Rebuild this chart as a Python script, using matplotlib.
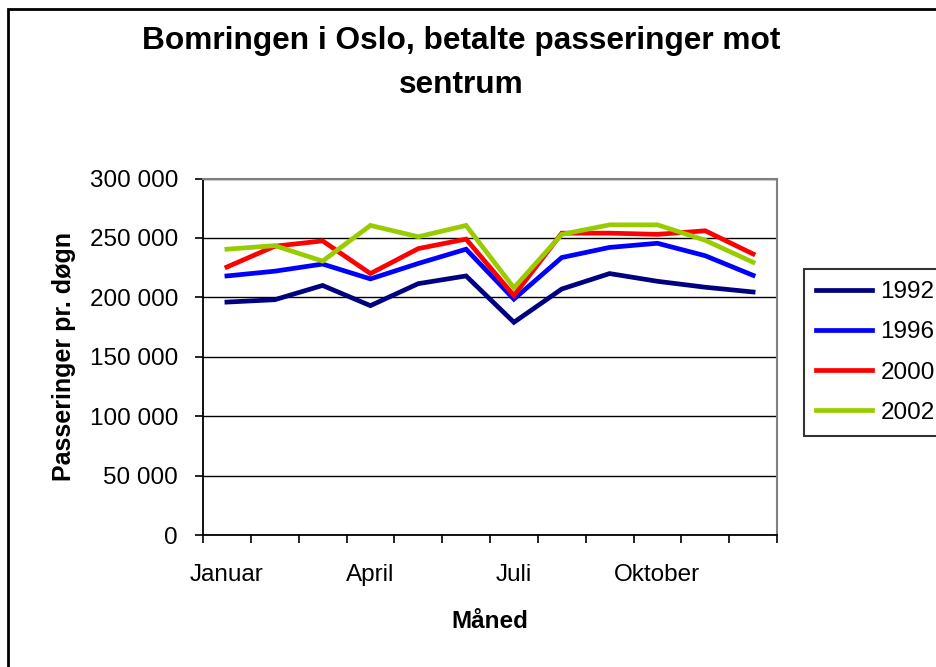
import matplotlib
matplotlib.use("Agg")
import matplotlib.pyplot as plt
from matplotlib.patches import Rectangle

plt.rcParams["font.family"] = ["Liberation Sans", "DejaVu Sans"]

months = ["Januar", "Februar", "Mars", "April", "Mai", "Juni", "Juli",
          "August", "September", "Oktober", "November", "Desember"]
years = ["1992", "1996", "2000", "2002"]
y1992 = [196000, 198000, 210000, 193000, 211500, 218000, 179000, 207000,
         220000, 213500, 208500, 204500]
y1996 = [218000, 222000, 228000, 215500, 228500, 240500, 198500, 233500,
         242000, 245500, 235000, 218500]
y2000 = [225500, 243000, 247500, 220000, 241000, 249000, 201500, 254000,
         254000, 253000, 256000, 236500]
y2002 = [240500, 243500, 230500, 260500, 251000, 260500, 208000, 253000,
         261000, 261000, 248000, 229500]
colors = ["#000080", "#0000FF", "#FF0000", "#99CC00"]

W, H = 936, 667
fig = plt.figure(figsize=(W / 100, H / 100), dpi=100)
ax = fig.add_axes([203 / W, 1 - 535 / H, (777 - 203) / W, (535 - 178.5) / H])

x = list(range(len(months)))
for yr, vals, c in zip(years, [y1992, y1996, y2000, y2002], colors):
    ax.plot(x, vals, color=c, lw=3.4, label=yr, solid_joinstyle="miter")

ax.set_xlim(-0.5, len(months) - 0.5)
ax.set_ylim(0, 300000)
ax.set_yticks(range(0, 300001, 50000))
ax.set_yticklabels([f"{v:,}".replace(",", " ") for v in range(0, 300001, 50000)],
                   fontsize=17.5)
ax.yaxis.grid(True, color="black", lw=1.0)
ax.set_axisbelow(True)

# category boundary ticks, labels every third month
ax.set_xticks([i - 0.5 for i in range(len(months) + 1)])
ax.set_xticklabels([])
ax.set_xticks(x[::3], minor=True)
ax.set_xticklabels(months[::3], minor=True, fontsize=17.5)
ax.tick_params(axis="x", which="minor", length=0, pad=21)
ax.tick_params(axis="x", which="major", length=6, width=1.2, direction="out")
ax.tick_params(axis="y", length=6, width=1.2, pad=12)

for s in ["top", "right"]:
    ax.spines[s].set_color("#808080")
    ax.spines[s].set_linewidth(1.5)
for s in ["left", "bottom"]:
    ax.spines[s].set_color("black")
    ax.spines[s].set_linewidth(1.3)

ax.set_xlabel("Måned", fontsize=17.5, fontweight="bold", labelpad=17)
ax.set_ylabel("Passeringer pr. døgn", fontsize=18, fontweight="bold",
              labelpad=10)

fig.text(461 / W, 1 - 63 / H, "Bomringen i Oslo, betalte passeringer mot\nsentrum",
         ha="center", va="center", fontsize=22.8, fontweight="bold",
         linespacing=1.62)

leg = fig.legend(loc="upper left", bbox_to_anchor=(804 / W, 1 - 269 / H),
                 borderaxespad=0, fontsize=17.5, frameon=True, fancybox=False,
                 edgecolor="black", handlelength=2.3, handletextpad=0.35,
                 borderpad=0.5, labelspacing=0.75)
leg.get_frame().set_linewidth(1.5)

fig.patches.append(Rectangle((8 / W, -0.1), 1.2, 1 - 9 / H + 0.1,
                             transform=fig.transFigure, fill=False,
                             edgecolor="black", lw=2))

fig.savefig("out.png", dpi=100)
